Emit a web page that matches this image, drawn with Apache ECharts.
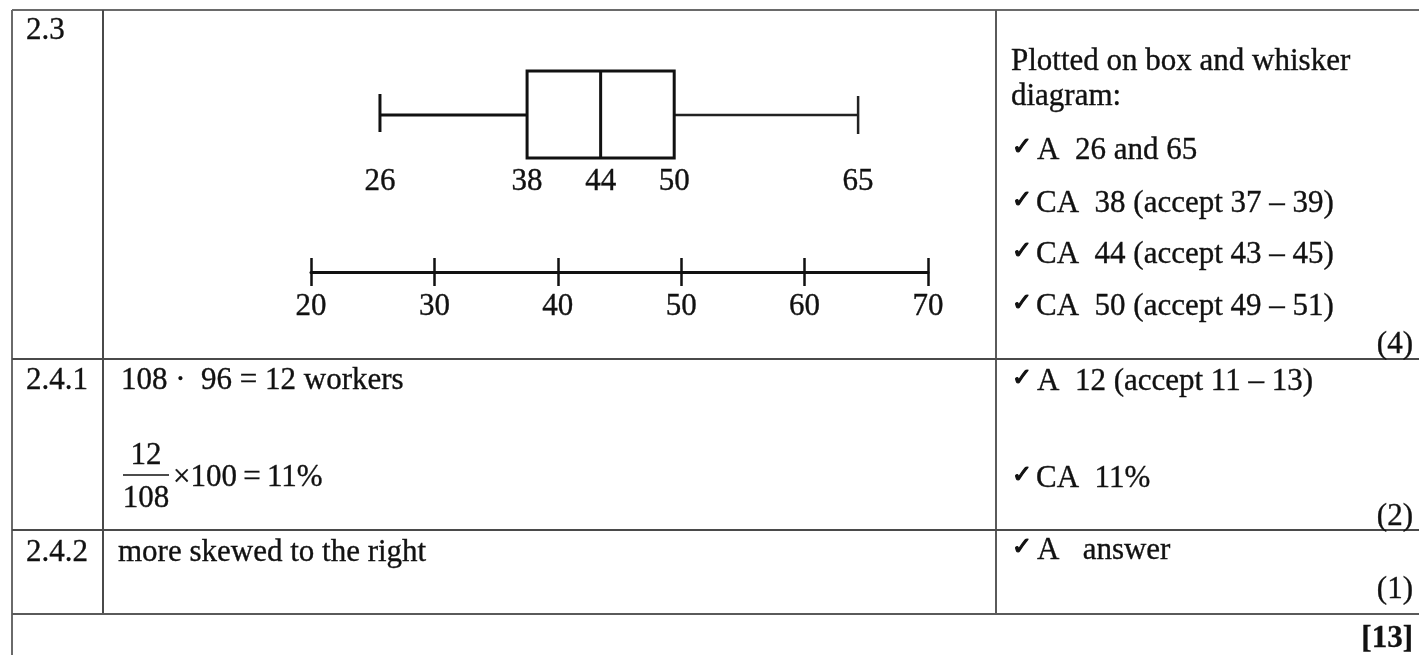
<!DOCTYPE html>
<html><head><meta charset="utf-8">
<script src="https://cdn.jsdelivr.net/npm/echarts@6/dist/echarts.min.js"></script>
<style>html,body{margin:0;padding:0;background:#fff}#c{width:1419px;height:655px}</style>
</head><body><div id="c"></div>
<script>
// ---- data ----
const fiveNumberSummary = [26, 38, 44, 50, 65];   // min, Q1, median, Q3, max
const summaryLabels = ['26', '38', '44', '50', '65'];
const axisMin = 20;
const axisMax = 70;
const axisStep = 10;
const axisTickLabels = ['20', '30', '40', '50', '60', '70'];
const rowNumbers = ['2.3', '2.4.1', '2.4.2'];
const markTotals = ['(4)', '(2)', '(1)'];
const grandTotal = '[13]';

// ---- styles ----
const FONT = '"Liberation Serif","Times New Roman",serif';
const CHECKFONT = '"DejaVu Sans","Liberation Serif",sans-serif';
const FS = 31;
const INK = '#111';
const RULE = '#4a4a4a';
const DY = 2;

const chart = echarts.init(document.getElementById('c'), null, {renderer: 'canvas'});

function txt(x, y, s, opt) {
  opt = opt || {};
  return {
    type: 'text', x: x, y: y + DY, z: 10,
    style: {
      text: s, fill: INK, font: (opt.bold ? 'bold ' : '') + (opt.size || FS) + 'px ' + (opt.family || FONT),
      align: opt.align || 'left', verticalAlign: 'middle',
      stroke: INK, lineWidth: opt.sw === undefined ? 0.35 : opt.sw
    }
  };
}
function rule(x1, y1, x2, y2, w, c) {
  return {type: 'line', z: 5, shape: {x1: x1, y1: y1, x2: x2, y2: y2},
          style: {stroke: c || RULE, lineWidth: w || 2}};
}
function check(x, y) { return txt(x, y, '\u2713', {size: 24, family: CHECKFONT, sw: 1.2}); }

const graphics = [
  // table rules
  rule(12, 10, 1419, 10, 2, '#6a6a6a'),
  rule(12, 10, 12, 655, 2, '#6a6a6a'),
  rule(103, 10, 103, 614, 2),
  rule(996, 10, 996, 614, 2, '#5a5a5a'),
  rule(12, 359, 1419, 359, 2),
  rule(12, 530, 1419, 530, 2),
  rule(12, 614, 1419, 614, 2, '#5a5a5a'),

  // row numbers
  txt(26, 29, rowNumbers[0]),
  txt(26, 379, rowNumbers[1]),
  txt(26, 551, rowNumbers[2]),

  // middle column texts
  txt(121, 379, '108 \u00b7  96 = 12 workers'),
  txt(146, 454, '12', {align: 'center'}),
  rule(123, 475, 169, 475, 1.6, INK),
  txt(146, 497, '108', {align: 'center'}),
  txt(173, 476, '\u00d7100\u2009=\u200911%'),
  txt(118, 551, 'more skewed to the right'),

  // right column texts
  txt(1011, 60, 'Plotted on box and whisker'),
  txt(1011, 95, 'diagram:'),
  check(1012, 146), txt(1037, 149, 'A  26 and 65'),
  check(1012, 199), txt(1036, 202, 'CA  38 (accept 37 \u2013 39)'),
  check(1012, 250), txt(1036, 253, 'CA  44 (accept 43 \u2013 45)'),
  check(1012, 302), txt(1036, 305, 'CA  50 (accept 49 \u2013 51)'),
  txt(1413, 343, markTotals[0], {align: 'right'}),
  check(1012, 377), txt(1037, 380, 'A  12 (accept 11 \u2013 13)'),
  check(1012, 474), txt(1036, 477, 'CA  11%'),
  txt(1413, 515, markTotals[1], {align: 'right'}),
  check(1012, 546), txt(1037, 549, 'A   answer'),
  txt(1413, 588, markTotals[2], {align: 'right'}),
  txt(1413, 637, grandTotal, {align: 'right', bold: true})
];

const option = {
  backgroundColor: '#fff',
  animation: false,
  grid: [
    {left: 306.4, right: 1419 - 919.4, top: 71, height: 87},
    {left: 311, right: 1419 - 928, top: 230, height: 42}
  ],
  xAxis: [
    {gridIndex: 0, type: 'value', min: axisMin, max: axisMax, interval: axisStep, show: false},
    {gridIndex: 1, type: 'value', position: 'bottom', min: axisMin, max: axisMax, interval: axisStep,
     splitLine: {show: false},
     axisLine: {show: true, onZero: false, lineStyle: {color: INK, width: 3}},
     axisTick: {show: true, inside: false, length: 14, lineStyle: {color: INK, width: 2.5}},
     axisLabel: {show: true, margin: 19, color: INK, fontSize: FS, fontFamily: FONT,
                 textBorderColor: INK, textBorderWidth: 0.35,
                 formatter: function (v) { return axisTickLabels[Math.round((v - axisMin) / axisStep)]; }}},
    {gridIndex: 1, type: 'value', position: 'bottom', offset: 0, min: axisMin, max: axisMax, interval: axisStep,
     splitLine: {show: false},
     axisLine: {show: false, onZero: false},
     axisTick: {show: true, inside: true, length: 14, lineStyle: {color: INK, width: 2.5}},
     axisLabel: {show: false}}
  ],
  yAxis: [
    {gridIndex: 0, type: 'value', min: 0, max: 1, show: false},
    {gridIndex: 1, type: 'value', min: 0, max: 1, show: false}
  ],
  series: [{
    type: 'custom',
    xAxisIndex: 0, yAxisIndex: 0,
    clip: false,
    dimensions: ['min', 'q1', 'median', 'q3', 'max'],
    encode: {x: [0, 1, 2, 3, 4]},
    data: [fiveNumberSummary],
    renderItem: function (params, api) {
      const v = [0, 1, 2, 3, 4].map(function (i) { return api.value(i); });
      const top = api.coord([v[0], 1])[1];
      const bot = api.coord([v[0], 0])[1];
      const mid = (top + bot) / 2 + 0.5;
      const x = v.map(function (d) { return api.coord([d, 0])[0]; });
      const cap = 19;
      const ls = {stroke: INK, lineWidth: 3};
      const kids = [
        {type: 'line', shape: {x1: x[0], y1: mid, x2: x[1], y2: mid}, style: ls},
        {type: 'line', shape: {x1: x[3], y1: mid, x2: x[4], y2: mid}, style: {stroke: '#222', lineWidth: 2.6}},
        {type: 'line', shape: {x1: x[0], y1: mid - cap - 2, x2: x[0], y2: mid + cap - 2}, style: ls},
        {type: 'line', shape: {x1: x[4], y1: mid - cap, x2: x[4], y2: mid + cap}, style: {stroke: '#222', lineWidth: 2.5}},
        {type: 'rect', shape: {x: x[1], y: top, width: x[3] - x[1], height: bot - top},
         style: {fill: 'rgba(0,0,0,0)', stroke: INK, lineWidth: 3}},
        {type: 'line', shape: {x1: x[2], y1: top, x2: x[2], y2: bot}, style: ls}
      ];
      for (let i = 0; i < 5; i++) {
        kids.push({type: 'text', x: x[i], y: bot + 24,
          style: {text: summaryLabels[i], fill: INK, font: FS + 'px ' + FONT,
                  stroke: INK, lineWidth: 0.35,
                  align: 'center', verticalAlign: 'middle'}});
      }
      return {type: 'group', children: kids};
    }
  }],
  graphic: graphics
};
chart.setOption(option);
</script>
</body></html>
